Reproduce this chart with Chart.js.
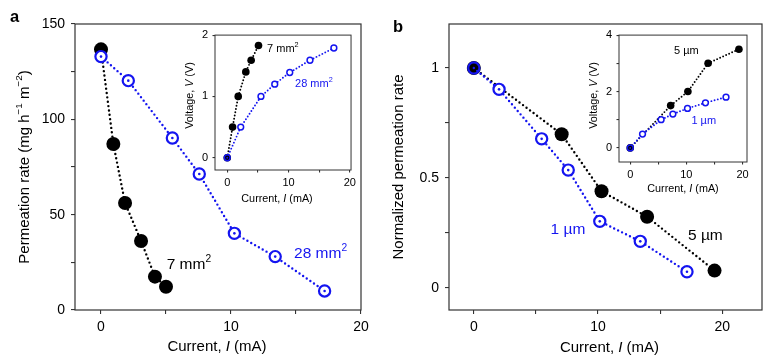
<!DOCTYPE html>
<html><head><meta charset="utf-8">
<script src="https://cdn.jsdelivr.net/npm/chart.js@4.4.0/dist/chart.umd.min.js"></script>
<style>
html,body{margin:0;padding:0;background:#fff;}
#wrap{position:relative;width:772px;height:360px;overflow:hidden;background:#fff;}
canvas{position:absolute;}
</style></head><body>
<div id="wrap">
<canvas id="mainA" width="386" height="360" style="left:0;top:0;width:386px;height:360px"></canvas>
<canvas id="mainB" width="386" height="360" style="left:386px;top:0;width:386px;height:360px"></canvas>
<canvas id="insetA" width="180" height="184" style="left:180px;top:24px;width:180px;height:184px"></canvas>
<canvas id="insetB" width="180" height="180" style="left:580px;top:24px;width:180px;height:180px"></canvas>
</div>
<script>
// ---------- data ----------
// Panel a, main: permeation rate vs current
const currentA7  = [0, 0.95, 1.85, 3.08, 4.15, 5.0];
const permA7     = [136.7, 87.1, 56.1, 36.2, 17.5, 12.2];
const currentA28 = [0, 2.1, 5.49, 7.56, 10.26, 13.4, 17.2];
const permA28    = [132.9, 120.3, 90.2, 71.3, 40.2, 28.0, 10.0];
// Panel a, inset: voltage vs current
const insetCurA7   = [0, 0.87, 1.79, 3.03, 3.9, 5.1];
const insetVoltA7  = [0, 0.5, 1.0, 1.4, 1.59, 1.83];
const insetCurA28  = [0, 2.2, 5.5, 7.75, 10.2, 13.5, 17.4];
const insetVoltA28 = [0, 0.5, 1.0, 1.2, 1.39, 1.59, 1.79];
// Panel b, main: normalized permeation rate vs current
const currentB5 = [0, 7.07, 10.28, 13.95, 19.38];
const normB5    = [1.0, 0.699, 0.44, 0.324, 0.079];
const currentB1 = [0, 2.03, 5.46, 7.6, 10.14, 13.4, 17.16];
const normB1    = [1.0, 0.903, 0.678, 0.536, 0.303, 0.212, 0.074];
// Panel b, inset: voltage vs current
const insetCurB5   = [0, 7.2, 10.27, 13.87, 19.36];
const insetVoltB5  = [0, 1.5, 2.0, 3.0, 3.5];
const insetCurB1   = [0, 2.19, 5.5, 7.6, 10.2, 13.4, 17.06];
const insetVoltB1  = [0, 0.49, 1.0, 1.2, 1.4, 1.6, 1.8];
// tick labels
const xTickLabels       = [0, 10, 20];
const yTickLabelsA      = [0, 50, 100, 150];
const yTickLabelsB      = [0, 0.5, 1];
const yTickLabelsInsetA = [0, 1, 2];
const yTickLabelsInsetB = [0, 2, 4];
// series names
const seriesA = ['7 mm', '28 mm'];
const seriesB = ['5 \u00b5m', '1 \u00b5m'];

// ---------- helpers ----------
const FONT = '"Liberation Sans", Arial, Helvetica, sans-serif';
const BLUE = '#1414f0';
const AXC = '#333';
Chart.defaults.font.family = FONT;
Chart.defaults.color = '#000';

function pts(xs, ys) { return xs.map((x, i) => ({x: x, y: ys[i]})); }
function near(list, v) { return list.some(t => Math.abs(t - v) < 1e-6); }

function drawRich(ctx, parts, x, y, size, color, rot, align, weight) {
  ctx.save();
  ctx.translate(x, y);
  ctx.rotate(rot || 0);
  ctx.fillStyle = color;
  ctx.textBaseline = 'middle';
  ctx.textAlign = 'left';
  const fontFor = p => (p.i ? 'italic ' : '') + (weight || '') + ' ' + (p.sup ? size * 0.66 : size) + 'px ' + FONT;
  let w = 0;
  const ws = parts.map(p => { ctx.font = fontFor(p); const m = ctx.measureText(p.t).width; w += m; return m; });
  let cx = align === 'left' ? 0 : -w / 2;
  parts.forEach((p, k) => {
    ctx.font = fontFor(p);
    ctx.fillText(p.t, cx, p.sup ? -size * 0.36 : 0);
    cx += ws[k];
  });
  ctx.restore();
}

const deco = {
  id: 'deco',
  beforeDatasetsDraw(chart, args, o) {
    const {ctx, chartArea: a} = chart;
    ctx.save();
    ctx.strokeStyle = AXC;
    ctx.lineWidth = o.frameWidth;
    ctx.strokeRect(a.left, a.top, a.right - a.left, a.bottom - a.top);
    ctx.restore();
  },
  afterDraw(chart, args, o) {
    const {ctx, chartArea: a, scales} = chart;
    (o.titles || []).forEach(t => {
      const p = t.pos(a);
      drawRich(ctx, t.parts, p[0], p[1], t.size, '#000', t.rot, 'center');
    });
    (o.labels || []).forEach(l => {
      const px = scales.x.getPixelForValue(l.x);
      const py = scales.y.getPixelForValue(l.y);
      drawRich(ctx, l.parts, px, py, l.size, l.color, 0, 'left');
    });
    (o.letters || []).forEach(l => {
      ctx.save();
      ctx.font = 'bold ' + l.size + 'px ' + FONT;
      ctx.fillStyle = '#000';
      ctx.textBaseline = 'alphabetic';
      ctx.fillText(l.t, l.px, l.py);
      ctx.restore();
    });
  }
};

function axis(min, max, step, labels, fmt, font, tickLen, pad, fit, isX) {
  return {
    type: 'linear', min: min, max: max,
    ticks: {
      stepSize: step, includeBounds: false, autoSkip: false, maxRotation: 0,
      font: {size: font}, color: '#000', padding: pad,
      callback: v => near(labels, v) ? fmt(v) : ''
    },
    grid: {drawOnChartArea: false, drawTicks: true, tickLength: tickLen, color: AXC, lineWidth: 1.1},
    border: {display: false},
    title: {display: false},
    afterFit: s => { if (isX) s.height = fit; else s.width = fit; }
  };
}

function lineDs(data, color, opt) {
  return Object.assign({
    data: data, showLine: true, borderColor: color, borderWidth: opt.lw,
    borderDash: [0, opt.gap], borderCapStyle: 'round', tension: 0,
    pointBorderColor: color, pointHoverRadius: opt.r
  }, opt.extra);
}

function baseOptions(pad, scales, decoOpts) {
  return {
    responsive: false, animation: false, events: [],
    layout: {padding: pad},
    scales: scales,
    plugins: {legend: {display: false}, tooltip: {enabled: false}, deco: decoOpts}
  };
}

const fmtNum = v => String(v);
const blueFill = transparentFirst => (c => (transparentFirst && c.dataIndex === 0) ? 'rgba(0,0,0,0)' : '#fff');

const curTitle = [{t: 'Current, '}, {t: 'I', i: true}, {t: ' (mA)'}];
const voltTitle = [{t: 'Voltage, '}, {t: 'V', i: true}, {t: ' (V)'}];

// ---------- Panel a, main ----------
new Chart(document.getElementById('mainA'), {
  type: 'scatter',
  data: {datasets: [
    {data: pts(currentA28, permA28), showLine: false, pointRadius: 1.3, pointBackgroundColor: BLUE, pointBorderWidth: 0, order: 0},
    lineDs(pts(currentA28, permA28), BLUE, {lw: 2.4, gap: 4.4, r: 5.6, extra: {pointRadius: 5.6, pointBorderWidth: 2.2, pointBackgroundColor: blueFill(false), order: 1}}),
    lineDs(pts(currentA7, permA7), '#000', {lw: 2.4, gap: 4.4, r: 7, extra: {pointRadius: 7, pointBorderWidth: 0, pointBackgroundColor: '#000', order: 2}})
  ]},
  options: baseOptions({left: 0, top: 24, right: 25, bottom: 0}, {
    x: axis(-2, 20, 5, xTickLabels, fmtNum, 14, 4, 5, 50, true),
    y: axis(0, 150, 25, yTickLabelsA, fmtNum, 14, 4, 6, 75, false)
  }, {
    frameWidth: 1.2,
    titles: [
      {parts: [{t: 'Permeation rate (mg h'}, {t: '\u22121', sup: true}, {t: ' m'}, {t: '\u22122', sup: true}, {t: ')'}],
       pos: a => [a.left - 50, (a.top + a.bottom) / 2], size: 15, rot: -Math.PI / 2},
      {parts: curTitle, pos: a => [(a.left + a.right) / 2 - 1, a.bottom + 37], size: 15, rot: 0}
    ],
    labels: [
      {parts: [{t: seriesA[0]}, {t: '2', sup: true}], x: 5.05, y: 23.6, size: 15.5, color: '#000'},
      {parts: [{t: seriesA[1]}, {t: '2', sup: true}], x: 14.85, y: 29.4, size: 15.5, color: BLUE}
    ],
    letters: [{t: 'a', px: 10, py: 22, size: 16.5}]
  }),
  plugins: [deco]
});

// ---------- Panel b, main ----------
new Chart(document.getElementById('mainB'), {
  type: 'scatter',
  data: {datasets: [
    {data: pts(currentB1, normB1), showLine: false, pointRadius: c => c.dataIndex === 0 ? 0 : 1.3, pointBackgroundColor: BLUE, pointBorderWidth: 0, order: 0},
    lineDs(pts(currentB1, normB1), BLUE, {lw: 2.4, gap: 4.4, r: 5.6, extra: {pointRadius: 5.6, pointBorderWidth: 2.2, pointBackgroundColor: blueFill(true), order: 1}}),
    lineDs(pts(currentB5, normB5), '#000', {lw: 2.4, gap: 4.4, r: 7, extra: {pointRadius: 7, pointBorderWidth: 0, pointBackgroundColor: '#000', order: 2}})
  ]},
  options: baseOptions({left: 0, top: 24, right: 10, bottom: 0}, {
    x: axis(-2, 23.2, 5, xTickLabels, fmtNum, 14, 4, 5, 50, true),
    y: axis(-0.1, 1.2, 0.25, yTickLabelsB, fmtNum, 14, 4, 6, 63, false)
  }, {
    frameWidth: 1.2,
    titles: [
      {parts: [{t: 'Normalized permeation rate'}], pos: a => [a.left - 50, (a.top + a.bottom) / 2], size: 15, rot: -Math.PI / 2},
      {parts: curTitle, pos: a => [(a.left + a.right) / 2 + 4, a.bottom + 38], size: 15, rot: 0}
    ],
    labels: [
      {parts: [{t: seriesB[1]}], x: 6.18, y: 0.266, size: 15.5, color: BLUE},
      {parts: [{t: seriesB[0]}], x: 17.24, y: 0.239, size: 15.5, color: '#000'}
    ],
    letters: [{t: 'b', px: 7, py: 32, size: 16.5}]
  }),
  plugins: [deco]
});

// ---------- Panel a, inset ----------
new Chart(document.getElementById('insetA'), {
  type: 'scatter',
  data: {datasets: [
    lineDs(pts(insetCurA28, insetVoltA28), BLUE, {lw: 1.9, gap: 3.3, r: 2.9, extra: {pointRadius: 2.9, pointBorderWidth: 1.5, pointBackgroundColor: blueFill(true), order: 1}}),
    lineDs(pts(insetCurA7, insetVoltA7), '#000', {lw: 1.9, gap: 3.3, r: 3.8, extra: {pointRadius: 3.8, pointBorderWidth: 0, pointBackgroundColor: '#000', order: 2}})
  ]},
  options: baseOptions({left: 0, top: 9, right: 8, bottom: 0}, {
    x: axis(-2, 20.2, 5, xTickLabels, fmtNum, 11, 2.5, 4, 38, true),
    y: axis(-0.2, 2, 1, yTickLabelsInsetA, fmtNum, 11, 2.5, 4.5, 35, false)
  }, {
    frameWidth: 1,
    titles: [
      {parts: voltTitle, pos: a => [a.left - 25, (a.top + a.bottom) / 2 - 7], size: 10.8, rot: -Math.PI / 2},
      {parts: curTitle, pos: a => [(a.left + a.right) / 2 - 6, a.bottom + 29], size: 10.8, rot: 0}
    ],
    labels: [
      {parts: [{t: seriesA[0]}, {t: '2', sup: true}], x: 6.5, y: 1.78, size: 11, color: '#000'},
      {parts: [{t: seriesA[1]}, {t: '2', sup: true}], x: 11.06, y: 1.2, size: 11, color: BLUE}
    ]
  }),
  plugins: [deco]
});

// ---------- Panel b, inset ----------
new Chart(document.getElementById('insetB'), {
  type: 'scatter',
  data: {datasets: [
    lineDs(pts(insetCurB1, insetVoltB1), BLUE, {lw: 1.9, gap: 3.3, r: 2.9, extra: {pointRadius: 2.9, pointBorderWidth: 1.5, pointBackgroundColor: blueFill(true), order: 1}}),
    lineDs(pts(insetCurB5, insetVoltB5), '#000', {lw: 1.9, gap: 3.3, r: 3.8, extra: {pointRadius: 3.8, pointBorderWidth: 0, pointBackgroundColor: '#000', order: 2}})
  ]},
  options: baseOptions({left: 0, top: 9, right: 13, bottom: 0}, {
    x: axis(-2, 20.8, 5, xTickLabels, fmtNum, 11, 2.5, 4, 42, true),
    y: axis(-0.5, 4, 1, yTickLabelsInsetB, fmtNum, 11, 2.5, 4.5, 39, false)
  }, {
    frameWidth: 1,
    titles: [
      {parts: voltTitle, pos: a => [a.left - 25, (a.top + a.bottom) / 2 - 3], size: 10.8, rot: -Math.PI / 2},
      {parts: curTitle, pos: a => [(a.left + a.right) / 2, a.bottom + 27], size: 10.8, rot: 0}
    ],
    labels: [
      {parts: [{t: seriesB[0]}], x: 7.8, y: 3.42, size: 11, color: '#000'},
      {parts: [{t: seriesB[1]}], x: 10.9, y: 0.95, size: 11, color: BLUE}
    ]
  }),
  plugins: [deco]
});
</script>
</body></html>
